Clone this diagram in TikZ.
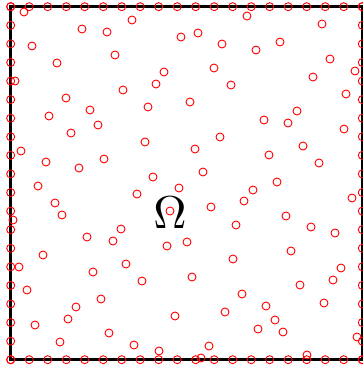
\documentclass[tikz,border=0pt]{standalone}
\begin{document}
\begin{tikzpicture}[x=1pt,y=-1pt]
\tikzset{pt/.style={draw=red,line width=.9pt}}
\useasboundingbox (0,0) rectangle (362,366);
\draw[line width=3pt] (10.7,6.7) rectangle (362.3,359.7);
\node[scale=4.6] (omega) at (170,213) {$\Omega$};
% points on the boundary
\foreach \k in {0,...,19}{
  \draw[pt] (10.7+18.5*\k,6.7) circle[radius=4pt];
  \draw[pt] (10.7+18.5*\k,359.7) circle[radius=4pt];
  \draw[pt] (10.7,6.7+18.58*\k) circle[radius=4pt];
  \draw[pt] (362.3,6.7+18.58*\k) circle[radius=4pt];
}
% points inside
\foreach \x/\y in {24/12,82/29,107/32,132/20,181/37,32/46,115/55,57/63,164/72,15/81,
  156/84,123/90,66/98,90/110,148/107,49/116,98/125,71/133,145/142,21/151,46/162,
  104/159,79/168,153/177,38/186,247/16,322/24,198/33,222/44,256/50,280/42,330/59,
  355/71,214/68,313/77,231/85,346/94,190/102,297/111,264/120,288/123,344/129,
  220/137,195/149,303/146,269/155,319/163,203/172,277/182,137/194,179/188,55/203,
  62/215,170/211,13/220,121/229,87/237,113/241,167/246,43/255,19/267,126/264,
  93/272,142/281,27/290,101/299,76/307,68/319,35/325,175/316,109/333,60/342,
  134/345,159/351,253/190,352/198,244/201,211/207,286/216,236/225,311/227,335/233,
  187/242,291/251,233/259,341/268,192/277,333/280,300/285,242/294,266/306,324/303,
  225/312,275/320,258/329,283/332,357/337,209/346,307/355,201/358}
  \draw[pt] (\x,\y) circle[radius=4pt];
\end{tikzpicture}
\end{document}
